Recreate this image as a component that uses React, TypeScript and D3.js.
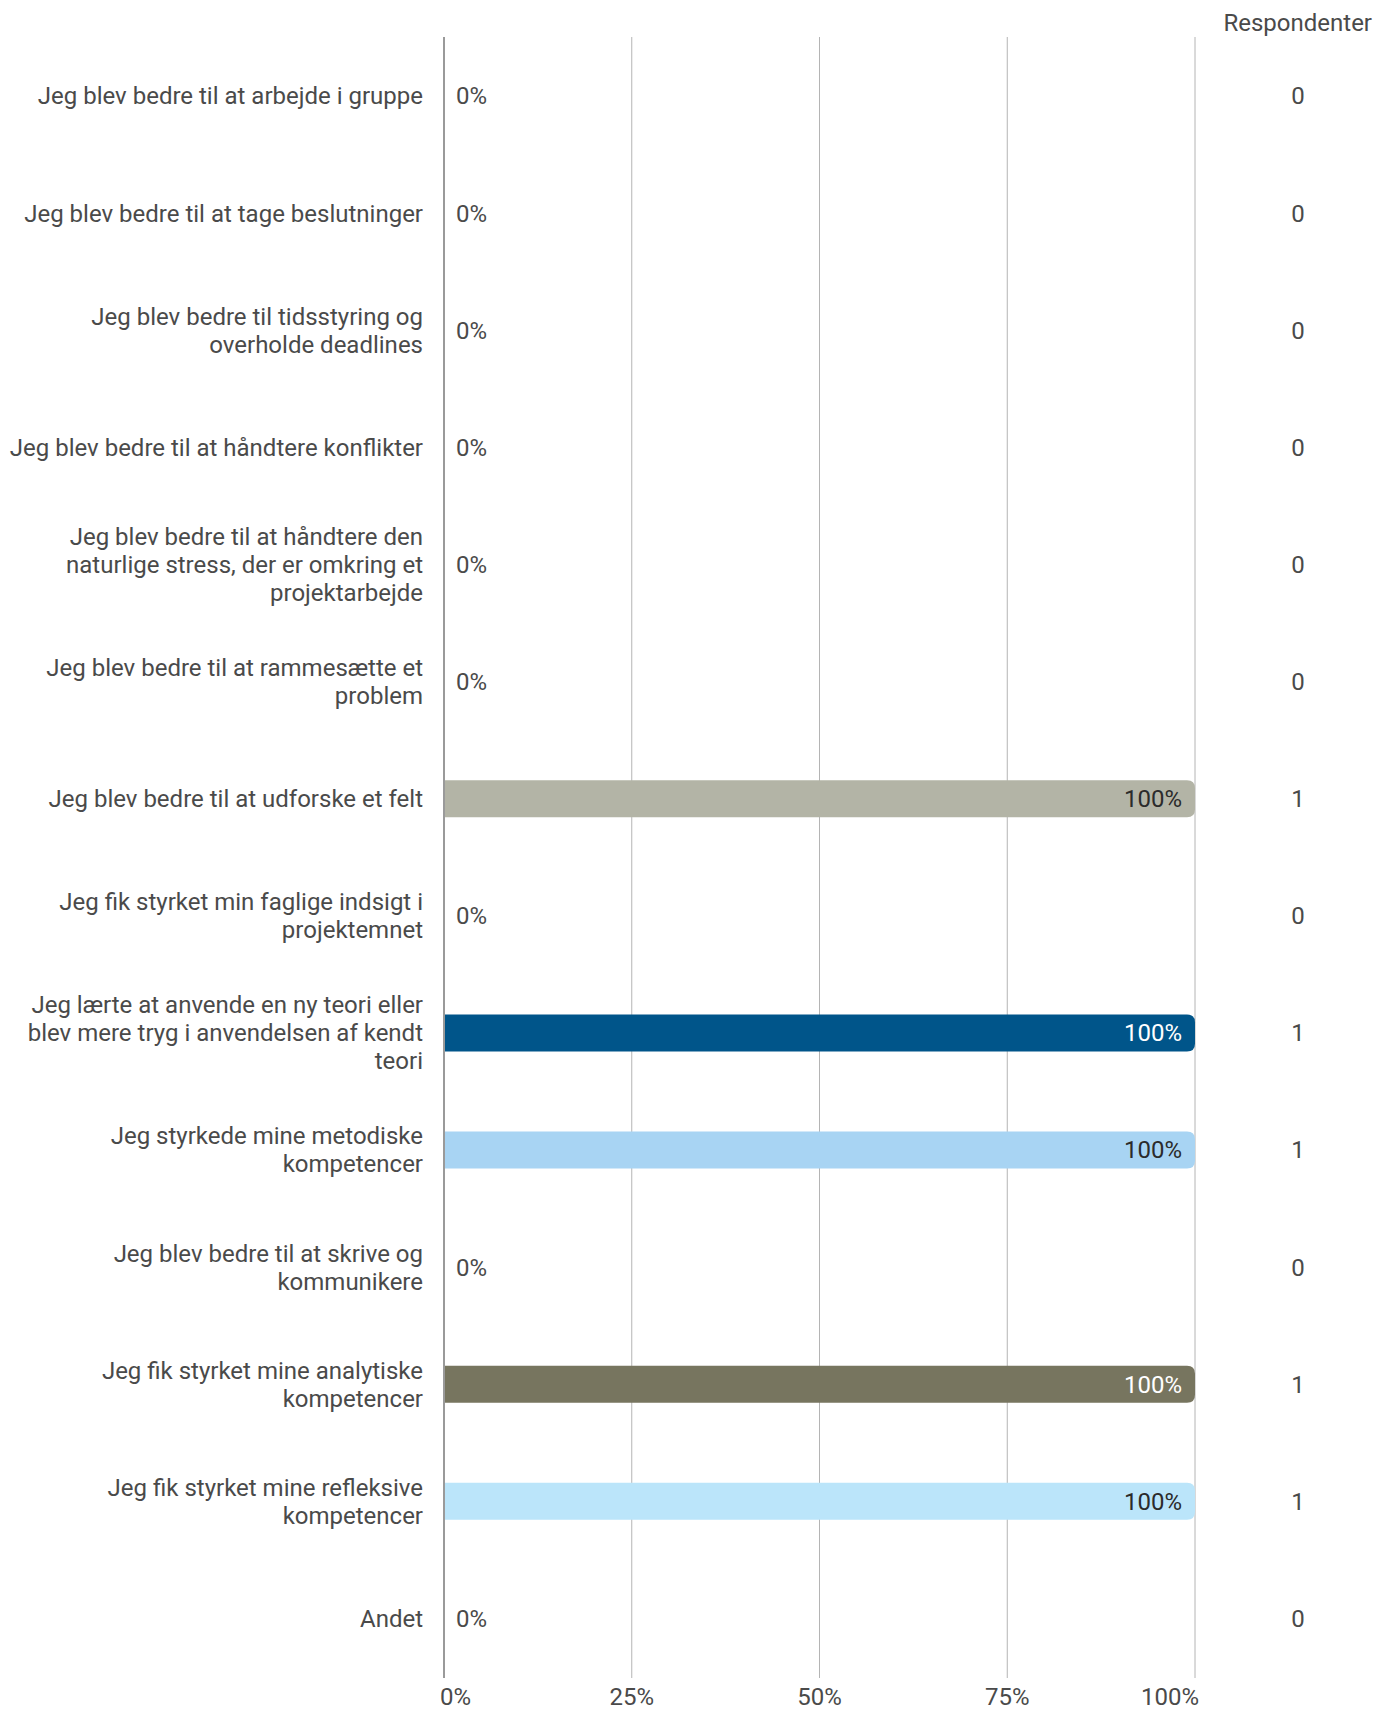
import React, { useEffect, useRef } from "react";
import * as d3 from "d3";

const categories = [
  "Jeg blev bedre til at arbejde i gruppe",
  "Jeg blev bedre til at tage beslutninger",
  "Jeg blev bedre til tidsstyring og\noverholde deadlines",
  "Jeg blev bedre til at håndtere konflikter",
  "Jeg blev bedre til at håndtere den\nnaturlige stress, der er omkring et\nprojektarbejde",
  "Jeg blev bedre til at rammesætte et\nproblem",
  "Jeg blev bedre til at udforske et felt",
  "Jeg fik styrket min faglige indsigt i\nprojektemnet",
  "Jeg lærte at anvende en ny teori eller\nblev mere tryg i anvendelsen af kendt\nteori",
  "Jeg styrkede mine metodiske\nkompetencer",
  "Jeg blev bedre til at skrive og\nkommunikere",
  "Jeg fik styrket mine analytiske\nkompetencer",
  "Jeg fik styrket mine refleksive\nkompetencer",
  "Andet",
];

const percents = [0, 0, 0, 0, 0, 0, 100, 0, 100, 100, 0, 100, 100, 0];
const respondents = [0, 0, 0, 0, 0, 0, 1, 0, 1, 1, 0, 1, 1, 0];

const barColors = [
  "#00558a", "#a8d4f3", "#77755f", "#bbe5fa", "#b3b4a6", "#00558a", "#b3b4a6",
  "#a8d4f3", "#00558a", "#a8d4f3", "#b3b4a6", "#77755f", "#bbe5fa", "#b3b4a6",
];
// text colour inside the bar (dark bars get white)
const darkBars = ["#00558a", "#77755f"];

const xTicks = [0, 25, 50, 75, 100];

const WIDTH = 1389;
const HEIGHT = 1712;

export default function App() {
  const ref = useRef<SVGSVGElement>(null);

  useEffect(() => {
    const svg = d3.select(ref.current);
    svg.selectAll("*").remove();

    const font = "Roboto, 'Noto Sans', sans-serif";
    const textColor = "#4a4a4a";

    const x = d3.scaleLinear().domain([0, 100]).range([444, 1195]);
    const y = d3
      .scaleBand<number>()
      .domain(d3.range(categories.length))
      .range([37.5, 1677])
      .padding(0);
    const barH = y.bandwidth() * 0.316;
    const radius = 8;

    const g = svg.append("g").style("font-family", font).style("font-size", "24px");

    // grid lines
    g.selectAll("line.grid")
      .data(xTicks.slice(1))
      .join("line")
      .attr("class", "grid")
      .attr("x1", (d) => x(d))
      .attr("x2", (d) => x(d))
      .attr("y1", 37)
      .attr("y2", 1678)
      .attr("stroke", "#b4b4b4")
      .attr("stroke-width", 1);

    // tick labels
    g.selectAll("text.tick")
      .data(xTicks)
      .join("text")
      .attr("class", "tick")
      .attr("x", (d, i) => (i === 0 ? x(d) - 4 : i === xTicks.length - 1 ? x(d) + 4 : x(d)))
      .attr("y", 1697)
      .attr("dy", "0.35em")
      .attr("text-anchor", (_, i) => (i === 0 ? "start" : i === xTicks.length - 1 ? "end" : "middle"))
      .attr("fill", textColor)
      .text((d) => `${d}%`);

    // bars, rounded on the right side only
    const barPath = (v: number, i: number) => {
      const x0 = x(0);
      const x1 = x(v);
      const top = (y(i) as number) + (y.bandwidth() - barH) / 2;
      const bot = top + barH;
      const r = Math.min(radius, (x1 - x0) / 2);
      return `M${x0},${top} H${x1 - r} Q${x1},${top} ${x1},${top + r} V${bot - r} Q${x1},${bot} ${x1 - r},${bot} H${x0} Z`;
    };

    const rows = categories.map((c, i) => ({ c, i, v: percents[i], n: respondents[i] }));

    g.selectAll("path.bar")
      .data(rows.filter((d) => d.v > 0))
      .join("path")
      .attr("class", "bar")
      .attr("d", (d) => barPath(d.v, d.i))
      .attr("fill", (d) => barColors[d.i]);

    // zero axis
    g.append("line")
      .attr("x1", x(0))
      .attr("x2", x(0))
      .attr("y1", 37)
      .attr("y2", 1678)
      .attr("stroke", "#9a9a9a")
      .attr("stroke-width", 2);

    const cy = (i: number) => (y(i) as number) + y.bandwidth() / 2;

    // value labels
    g.selectAll("text.value")
      .data(rows)
      .join("text")
      .attr("class", "value")
      .attr("x", (d) => (d.v > 0 ? x(d.v) - 13 : x(0) + 12))
      .attr("y", (d) => cy(d.i))
      .attr("dy", "0.35em")
      .attr("text-anchor", (d) => (d.v > 0 ? "end" : "start"))
      .attr("fill", (d) =>
        d.v > 0 ? (darkBars.includes(barColors[d.i]) ? "#ffffff" : "#2b2b2b") : textColor
      )
      .text((d) => `${d.v}%`);

    // category labels
    const labels = g
      .selectAll("text.cat")
      .data(rows)
      .join("text")
      .attr("class", "cat")
      .attr("text-anchor", "end")
      .attr("fill", textColor);

    const lineH = 28;
    labels.each(function (d) {
      const lines = d.c.split("\n");
      const start = cy(d.i) - ((lines.length - 1) * lineH) / 2;
      d3.select(this)
        .selectAll("tspan")
        .data(lines)
        .join("tspan")
        .attr("x", 423)
        .attr("y", (_, k) => start + k * lineH)
        .attr("dy", "0.35em")
        .text((t) => t);
    });

    // respondents column
    g.append("text")
      .attr("x", 1372)
      .attr("y", 23)
      .attr("dy", "0.35em")
      .attr("text-anchor", "end")
      .attr("fill", textColor)
      .text("Respondenter");

    g.selectAll("text.count")
      .data(rows)
      .join("text")
      .attr("class", "count")
      .attr("x", 1298)
      .attr("y", (d) => cy(d.i))
      .attr("dy", "0.35em")
      .attr("text-anchor", "middle")
      .attr("fill", textColor)
      .text((d) => d.n);
  }, []);

  return (
    <svg
      ref={ref}
      width={WIDTH}
      height={HEIGHT}
      style={{ position: "absolute", left: 0, top: 0, background: "#fff" }}
    />
  );
}
